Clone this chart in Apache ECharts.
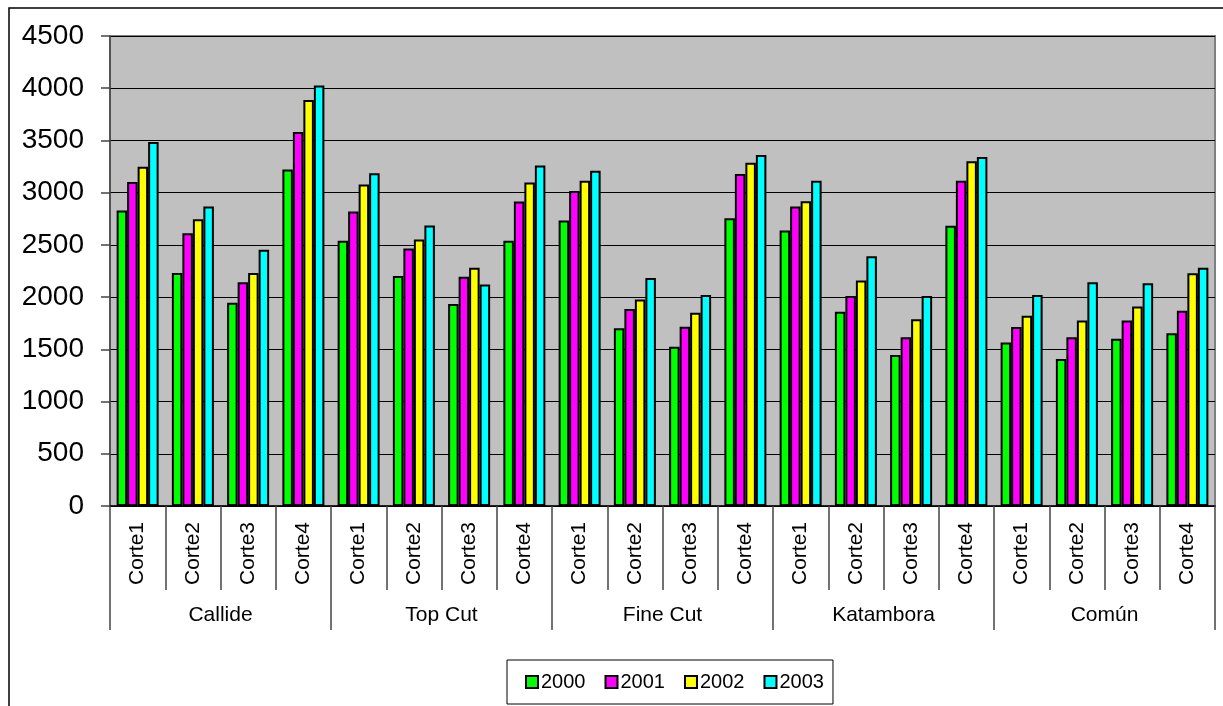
<!DOCTYPE html>
<html>
<head>
<meta charset="utf-8">
<script src="https://cdn.jsdelivr.net/npm/echarts@6/dist/echarts.min.js"></script>
<style>
  html, body { margin: 0; padding: 0; background: #fff; }
  #chart { width: 1223px; height: 706px; }
</style>
</head>
<body>
<div id="chart"></div>
<script>
// Variedades (grupos) y cortes dentro de cada variedad
const groups = ['Callide', 'Top Cut', 'Fine Cut', 'Katambora', 'Común'];
const cuts = ['Corte1', 'Corte2', 'Corte3', 'Corte4'];
const years = ['2000', '2001', '2002', '2003'];
const yTicks = { min: 0, max: 4500, step: 500 };

// Valores por año, en orden: Callide C1..C4, Top Cut C1..C4, Fine Cut, Katambora, Común
const y2000 = [2830, 2232, 1947, 3223, 2539, 2203, 1934, 2539, 2734, 1701, 1525, 2756, 2638, 1861, 1446, 2683, 1566, 1407, 1602, 1653];
const y2001 = [3101, 2612, 2142, 3581, 2820, 2465, 2194, 2916, 3015, 1887, 1717, 3178, 2868, 2011, 1615, 3114, 1714, 1615, 1775, 1870];
const y2002 = [3249, 2746, 2232, 3888, 3079, 2552, 2280, 3098, 3114, 1976, 1850, 3287, 2919, 2158, 1787, 3300, 1822, 1775, 1909, 2228];
const y2003 = [3485, 2868, 2453, 4026, 3187, 2686, 2120, 3261, 3210, 2184, 2021, 3360, 3114, 2391, 2011, 3341, 2021, 2142, 2132, 2280];

const colors = ['#00FF00', '#FF00FF', '#FFFF00', '#00FFFF'];
const seriesValues = [y2000, y2001, y2002, y2003];

const categories = [];
groups.forEach(() => cuts.forEach(c => categories.push(c)));

const FONT = '"Liberation Sans", Arial, sans-serif';

const chart = echarts.init(document.getElementById('chart'), null, { renderer: 'canvas' });

chart.setOption({
  animation: false,
  backgroundColor: '#fff',
  textStyle: { fontFamily: FONT, color: '#000' },
  graphic: [{
    type: 'rect',
    shape: { x: 9, y: 8, width: 1230, height: 720 },
    style: { fill: 'none', stroke: '#000', lineWidth: 1.5 },
    silent: true,
    z: -10
  }],
  grid: {
    left: 110, right: 8, top: 36, bottom: 200,
    show: true,
    backgroundColor: '#C0C0C0',
    borderColor: '#808080',
    borderWidth: 2
  },
  legend: {
    data: years,
    left: 507,
    top: 660,
    padding: [12, 9, 12, 18],
    itemGap: 19,
    itemWidth: 12,
    itemHeight: 12,
    icon: 'rect',
    borderColor: '#000',
    borderWidth: 1,
    textStyle: { fontFamily: FONT, fontSize: 20, color: '#000', padding: [0, 0, 0, -2] },
    itemStyle: { borderColor: '#000', borderWidth: 2 }
  },
  xAxis: [
    {
      type: 'category',
      data: categories,
      position: 'bottom',
      axisLine: { show: true, lineStyle: { color: '#000', width: 1.5 } },
      axisTick: { show: true, interval: 0, length: 84, lineStyle: { color: '#444', width: 1.5 } },
      axisLabel: {
        interval: 0, rotate: 90, margin: 16,
        fontFamily: FONT, fontSize: 21, color: '#000'
      },
      splitLine: { show: false }
    },
    {
      type: 'category',
      data: groups,
      position: 'bottom',
      axisLine: { show: false },
      axisTick: { show: true, interval: 0, length: 124, lineStyle: { color: '#444', width: 1.5 } },
      axisLabel: {
        interval: 0, margin: 99,
        fontFamily: FONT, fontSize: 21, color: '#000'
      },
      splitLine: { show: false }
    }
  ],
  yAxis: {
    type: 'value',
    min: yTicks.min,
    max: yTicks.max,
    interval: yTicks.step,
    axisLine: { show: true, lineStyle: { color: '#444', width: 1.5 } },
    axisTick: { show: true, length: 9, lineStyle: { color: '#444', width: 1.5 } },
    axisLabel: {
      margin: 26, fontFamily: FONT, fontSize: 28, color: '#000',
      formatter: v => String(v)
    },
    splitLine: { show: true, lineStyle: { color: '#000', width: 1.2 } }
  },
  series: years.map((yr, i) => ({
    name: yr,
    type: 'bar',
    xAxisIndex: 0,
    data: seriesValues[i],
    barWidth: 10.5,
    barGap: '0%',
    itemStyle: { color: colors[i], borderColor: '#000', borderWidth: 2 }
  }))
});
</script>
</body>
</html>
